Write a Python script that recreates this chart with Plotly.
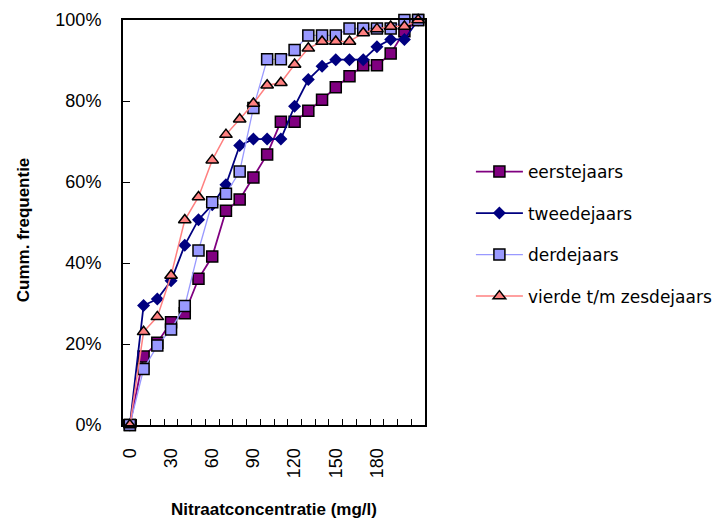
import plotly.graph_objects as go

# Nitrate concentration classes (mg/l), one category every 10 mg/l
categories = [0, 10, 20, 30, 40, 50, 60, 70, 80, 90, 100,
              110, 120, 130, 140, 150, 160, 170, 180, 190, 200, 210]
tick_labels = ["0", "30", "60", "90", "120", "150", "180"]

# Cumulative frequency (%) per year group
eerstejaars = [0, 16.9, 20.3, 25.4, 27.6, 36.1, 41.6, 52.9, 55.7, 61.1, 66.8,
               74.9, 74.9, 77.6, 80.3, 83.4, 86.1, 88.8, 88.8, 91.7, 97.2, 100]
tweedejaars = [0, 29.5, 31.1, 35.6, 44.4, 50.7, 54.4, 59.3, 69.0, 70.6, 70.6,
               70.6, 78.7, 85.3, 88.6, 90.2, 90.2, 90.2, 93.4, 95.2, 95.2, 100]
derdejaars = [0, 13.8, 19.6, 23.6, 29.4, 43.1, 55.0, 57.1, 62.6, 78.3, 90.3,
              90.3, 92.6, 96.2, 96.2, 96.2, 97.9, 97.9, 97.9, 97.9, 100, 100]
vierde_zesdejaars = [0, 23.0, 26.7, 36.9, 50.6, 56.3, 65.4, 71.7, 75.5, 79.4, 83.9,
                     84.5, 89.0, 93.0, 94.7, 94.7, 94.7, 96.8, 97.8, 98.4, 98.4, 100]

series = [
    ("eerstejaars", eerstejaars, "#800080", "#800080", "square", 11, 1.5, 1.8),
    ("tweedejaars", tweedejaars, "#000080", "#000080", "diamond", 10, 0, 1.8),
    ("derdejaars", derdejaars, "#9999FF", "#9999FF", "square", 11, 1.5, 1.3),
    ("vierde t/m zesdejaars", vierde_zesdejaars, "#FF8080", "#FF8080", "triangle-up", 11, 1.5, 1.5),
]

x_idx = list(range(len(categories)))
tick_idx = [categories.index(int(t)) for t in tick_labels]

FONT = "Liberation Sans, Arial, sans-serif"

fig = go.Figure()
for i, (name, vals, lcol, mcol, sym, msize, mline, lw) in enumerate(series):
    fig.add_trace(go.Scatter(
        x=x_idx, y=vals, name=name, mode="lines+markers",
        line=dict(color=lcol, width=lw),
        marker=dict(symbol=sym, size=msize, color=mcol,
                    line=dict(color="black", width=mline)),
        cliponaxis=False,
        legendgroup=str(i),
    ))

fig.update_layout(
    width=717, height=522,
    margin=dict(l=123, r=292, t=20, b=97, autoexpand=False),
    paper_bgcolor="white", plot_bgcolor="white",
    font=dict(family=FONT, color="black", size=18),
    showlegend=True,
    legend=dict(x=1.152, y=0.669, xanchor="left", yanchor="top",
                font=dict(size=17, family="DejaVu Sans, sans-serif"),
                tracegroupgap=16.4, itemwidth=47,
                bgcolor="rgba(0,0,0,0)", borderwidth=0),
    xaxis=dict(
        range=[-0.5, len(categories) - 0.5],
        tickmode="array", tickvals=tick_idx, ticktext=tick_labels,
        tickangle=-90, ticks="", ticklabelstandoff=14,
        showline=True, linecolor="black", linewidth=2, mirror=True,
        showgrid=False, zeroline=False,
        minor=dict(ticks="inside", tick0=-0.5, dtick=1, ticklen=6,
                   tickwidth=1, tickcolor="black", showgrid=False),
        tickfont=dict(size=18),
    ),
    yaxis=dict(
        range=[0, 100], dtick=20, ticksuffix="%",
        ticks="inside", ticklen=7, tickwidth=1, tickcolor="black",
        ticklabelstandoff=16,
        showline=True, linecolor="black", linewidth=2, mirror=True,
        showgrid=False, zeroline=False,
        tickfont=dict(size=18),
    ),
    annotations=[
        dict(text="<b>Nitraatconcentratie (mg/l)</b>", xref="paper", yref="paper",
             x=0.5, y=-0.2077, xanchor="center", yanchor="middle",
             showarrow=False, font=dict(size=17, family=FONT)),
        dict(text="<b>Cumm. frequentie</b>", xref="paper", yref="paper",
             x=-0.3298, y=0.482, xanchor="center", yanchor="middle",
             textangle=-90, showarrow=False, font=dict(size=17, family=FONT)),
    ],
)

fig.write_html("out.html")
